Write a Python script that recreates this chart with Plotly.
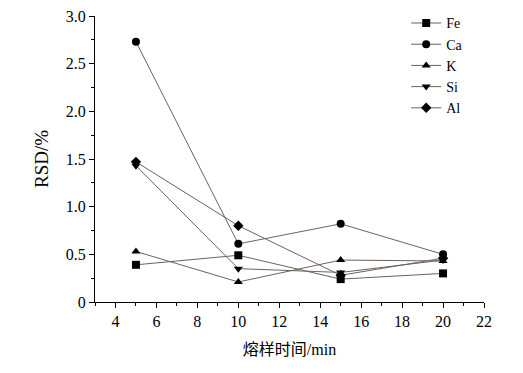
import plotly.graph_objects as go

times = [5, 10, 15, 20]
fe = [0.39, 0.49, 0.24, 0.30]
ca = [2.73, 0.61, 0.82, 0.50]
k = [0.53, 0.21, 0.44, 0.43]
si = [1.43, 0.35, 0.31, 0.44]
al = [1.47, 0.80, 0.28, 0.46]

series = [("Fe", fe, "square"), ("Ca", ca, "circle"), ("K", k, "triangle-up"),
          ("Si", si, "triangle-down"), ("Al", al, "diamond")]

y_tickvals = [0, 0.5, 1.0, 1.5, 2.0, 2.5, 3.0]
y_ticktext = ["0", "0.5", "1.0", "1.5", "2.0", "2.5", "3.0"]
x_tickvals = [4, 6, 8, 10, 12, 14, 16, 18, 20, 22]

fig = go.Figure()
for name, vals, sym in series:
    fig.add_trace(go.Scatter(
        x=times, y=vals, name=name, mode="lines+markers",
        line=dict(color="#6e625c", width=1),
        marker=dict(symbol=sym, color="black", size=8),
    ))

font = "Liberation Serif"
fig.update_layout(
    width=523, height=373,
    margin=dict(l=87, r=47, t=8, b=79, autoexpand=False),
    paper_bgcolor="white", plot_bgcolor="white",
    font=dict(family=font, size=16, color="black"),
    showlegend=True,
    legend=dict(x=0.80, y=1.03, xanchor="left", yanchor="top",
                bgcolor="rgba(0,0,0,0)", font=dict(family=font, size=14),
                tracegroupgap=0, itemwidth=30),
    xaxis=dict(range=[3, 22], tickvals=x_tickvals, showline=True, linecolor="black",
               linewidth=1, ticks="outside", ticklen=5, tickcolor="black",
               showgrid=False, zeroline=False, ticklabeloverflow="allow",
               minor=dict(ticks="outside", ticklen=3, dtick=1, tick0=3, tickcolor="black"),
               title=dict(text="熔样时间/min", standoff=14,
                          font=dict(family="Liberation Serif, Noto Sans CJK SC", size=16))),
    yaxis=dict(range=[0, 3.0], tickvals=y_tickvals, ticktext=y_ticktext, showline=True,
               linecolor="black", linewidth=1, ticks="outside", ticklen=5, tickcolor="black",
               showgrid=False, zeroline=False, ticklabeloverflow="allow",
               minor=dict(ticks="outside", ticklen=3, dtick=0.25, tickcolor="black"),
               title=dict(text="RSD/%", standoff=12)),
)

fig.write_html("out.html")
